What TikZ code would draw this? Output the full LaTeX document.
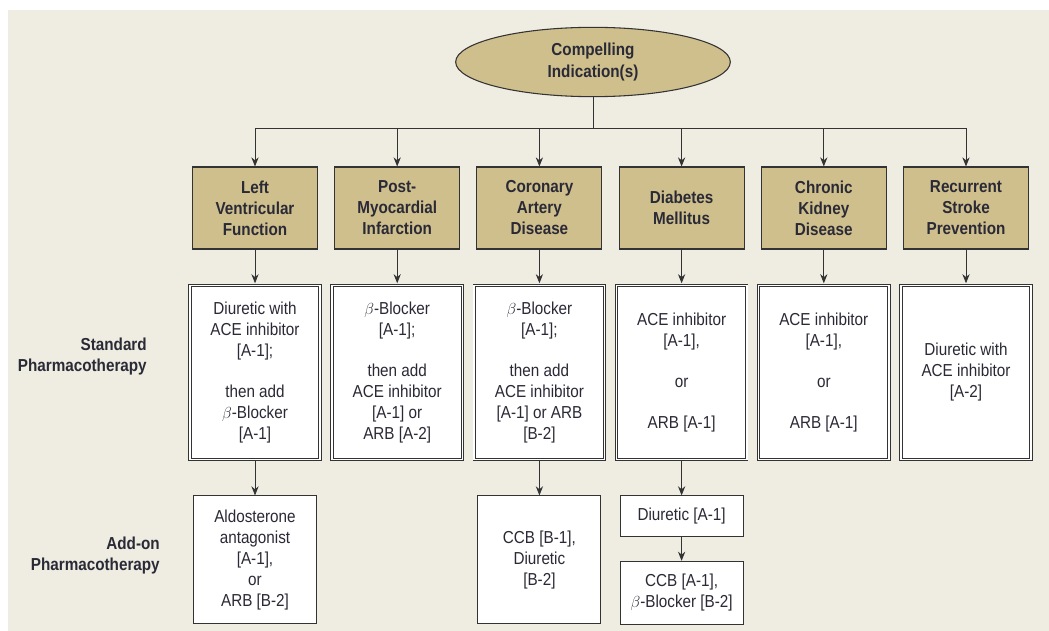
\documentclass[tikz,border=0pt]{standalone}
\usepackage{fontspec}
\setmainfont{Liberation Sans}[FakeStretch=0.88]
\usepackage{tikz}
\usetikzlibrary{arrows.meta, positioning, shapes.geometric}
\definecolor{ink}{HTML}{2A2A36}
\definecolor{tan}{HTML}{CFBF8D}
\definecolor{paper}{HTML}{EFECE2}
\definecolor{rule}{HTML}{333333}
\tikzset{
  >={Stealth[length=2.4mm,width=1.9mm]},
  cond/.style={
    draw=rule, fill=tan, line width=0.8pt, align=center, inner sep=2pt,
    minimum width=93.75pt, minimum height=61.5pt,
    font=\fontsize{13}{15.75}\selectfont\bfseries
  },
  std/.style={
    draw=rule, double=white, double distance=1.2pt, line width=0.7pt,
    fill=white, align=center, inner sep=2pt,
    minimum width=97.7pt, minimum height=130.7pt
  },
  addon/.style={
    draw=rule, fill=white, line width=0.8pt, align=center, inner sep=2pt,
    minimum width=92.25pt
  },
  side/.style={align=right, anchor=east, inner sep=0pt,
    font=\fontsize{13}{15.75}\selectfont\bfseries},
  link/.style={line width=0.6pt, draw=rule},
  arr/.style={->, line width=0.6pt, draw=rule},
  arrd/.style={arr, shorten >=1.2pt}
}

\begin{document}
\begin{tikzpicture}[x=0.75pt, y=-0.75pt, text=ink, font=\fontsize{13}{15.75}\selectfont]
  \useasboundingbox (0,0) rectangle (1049,631);
  \fill[paper] (8,10) rectangle (1049,631);

  % root
  \node[ellipse, draw=rule, fill=tan, line width=0.8pt, align=center,
    minimum width=206pt, minimum height=52pt,
    font=\fontsize{13}{16}\selectfont\bfseries] (ci) at (593,62) {Compelling\\Indication(s)};

  % compelling indications
  \node[cond] (lvf) at (255,208) {Left\\Ventricular\\Function};
  \node[cond, right=12.1pt of lvf] (pmi) {Post-\\Myocardial\\Infarction};
  \node[cond, right=12.1pt of pmi] (cad) {Coronary\\Artery\\Disease};
  \node[cond, right=12.1pt of cad] (dm) {Diabetes\\Mellitus};
  \node[cond, right=12.1pt of dm] (ckd) {Chronic\\Kidney\\Disease};
  \node[cond, right=12.1pt of ckd] (rsp) {Recurrent\\Stroke\\Prevention};

  % standard pharmacotherapy
  \node[std, below=26.5pt of lvf] (lvfs)
    {Diuretic with\\ACE inhibitor\\{[A-1];}\\[15pt]then add\\$\beta$-Blocker\\{[A-1]}};
  \node[std, below=26.5pt of pmi] (pmis)
    {$\beta$-Blocker\\{[A-1];}\\[15pt]then add\\ACE inhibitor\\{[A-1] or}\\ARB [A-2]};
  \node[std, below=26.5pt of cad] (cads)
    {$\beta$-Blocker\\{[A-1];}\\[15pt]then add\\ACE inhibitor\\{[A-1] or ARB}\\{[B-2]}};
  \node[std, below=26.5pt of dm] (dms)
    {ACE inhibitor\\{[A-1],}\\[15pt]or\\[15pt]ARB [A-1]};
  \node[std, below=26.5pt of ckd] (ckds)
    {ACE inhibitor\\{[A-1],}\\[15pt]or\\[15pt]ARB [A-1]};
  \node[std, below=26.5pt of rsp] (rsps)
    {Diuretic with\\ACE inhibitor\\{[A-2]}};

  % add-on pharmacotherapy
  \node[addon, minimum height=96pt, below=26.5pt of lvfs] (lvfa)
    {Aldosterone\\antagonist\\{[A-1],}\\or\\ARB [B-2]};
  \node[addon, minimum height=96pt, below=26.5pt of cads] (cada)
    {CCB [B-1],\\Diuretic\\{[B-2]}};
  \node[addon, minimum height=30.75pt, below=26.5pt of dms] (dma) {Diuretic [A-1]};
  \node[addon, minimum height=47.25pt, below=17.5pt of dma] (dmb)
    {CCB [A-1],\\$\beta$-Blocker [B-2]};

  % row labels
  \node[side] (stdl) at (147,357) {Standard\\Pharmacotherapy};
  \node[side] (addl) at (160,556) {Add-on\\Pharmacotherapy};

  % connectors
  \coordinate (bar) at (593,128);
  \draw[link] (ci.south) -- (bar);
  \draw[link] (lvf.north |- bar) -- (rsp.north |- bar);
  \draw[arr] (lvf.north |- bar) -- (lvf);
  \draw[arr] (pmi.north |- bar) -- (pmi);
  \draw[arr] (cad.north |- bar) -- (cad);
  \draw[arr] (dm.north |- bar) -- (dm);
  \draw[arr] (ckd.north |- bar) -- (ckd);
  \draw[arr] (rsp.north |- bar) -- (rsp);
  \draw[arrd] (lvf) -- (lvfs);
  \draw[arrd] (pmi) -- (pmis);
  \draw[arrd] (cad) -- (cads);
  \draw[arrd] (dm) -- (dms);
  \draw[arrd] (ckd) -- (ckds);
  \draw[arrd] (rsp) -- (rsps);
  \draw[arr] (lvfs) -- (lvfa);
  \draw[arr] (cads) -- (cada);
  \draw[arr] (dms) -- (dma);
  \draw[arr] (dma) -- (dmb);
\end{tikzpicture}
\end{document}
